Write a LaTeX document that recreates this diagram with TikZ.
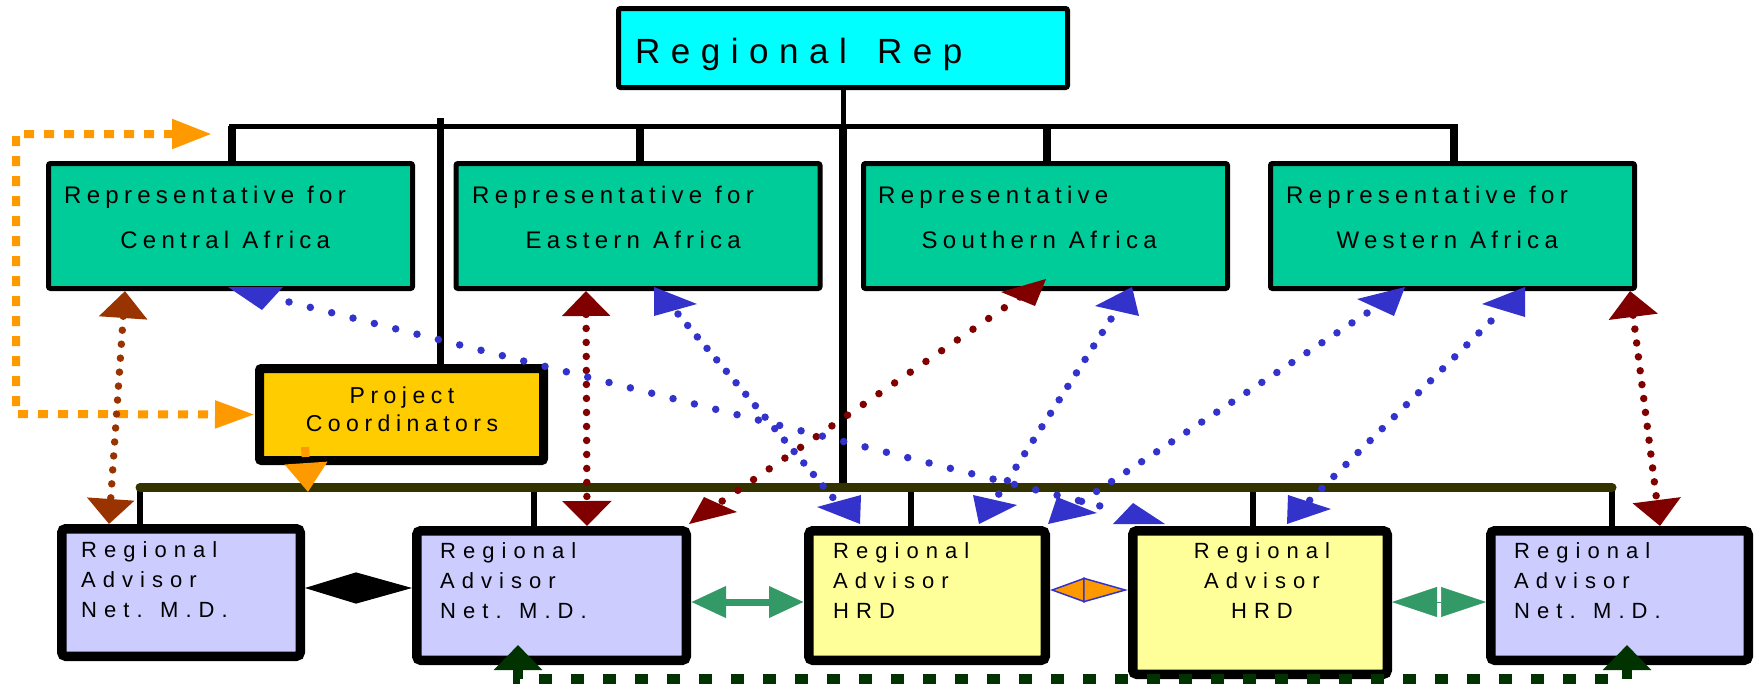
\documentclass[tikz,border=0pt]{standalone}
\usepackage{fontspec}
\setmainfont{Liberation Sans}
\newfontfamily\headfont[LetterSpace=30,WordSpace=1.5]{Liberation Sans}
\newfontfamily\repfont[LetterSpace=22]{Liberation Sans}
\newfontfamily\projfont[LetterSpace=24]{Liberation Sans}
\newfontfamily\advfont[LetterSpace=32]{Liberation Sans}
\usetikzlibrary{arrows.meta}
\definecolor{repcyan}{HTML}{00FFFF}
\definecolor{repgreen}{HTML}{00CC99}
\definecolor{projgold}{HTML}{FFCC00}
\definecolor{netlav}{HTML}{CCCCFF}
\definecolor{hrdyellow}{HTML}{FFFF99}
\definecolor{busolive}{HTML}{333300}
\definecolor{linkorange}{HTML}{FF9900}
\definecolor{linkblue}{HTML}{3333CC}
\definecolor{linkred}{HTML}{800000}
\definecolor{linkbrown}{HTML}{993300}
\definecolor{peergreen}{HTML}{339966}
\definecolor{loopgreen}{HTML}{003300}
\newcommand{\wsp}{\hspace{13pt}}
\tikzset{
  headbox/.style={draw, line width=5pt, fill=repcyan, rounded corners=2pt, minimum width=449pt, minimum height=79pt, inner sep=0pt},
  repbox/.style={draw, line width=5pt, fill=repgreen, rounded corners=2pt, minimum width=364pt, minimum height=125pt, inner sep=0pt},
  projbox/.style={draw, line width=9pt, fill=projgold, rounded corners=2pt, minimum width=284pt, minimum height=92pt, inner sep=0pt},
  advbox/.style={draw, line width=9.5pt, rounded corners=4pt, inner sep=0pt},
  netbox/.style={advbox, fill=netlav},
  hrdbox/.style={advbox, fill=hrdyellow},
  headtext/.style={anchor=base west, inner sep=0pt, font=\headfont\fontsize{35}{42}\selectfont},
  reptext/.style={anchor=north west, inner sep=0pt, text width=322pt, align=left, font=\repfont\fontsize{24}{45}\selectfont},
  projtext/.style={anchor=north, inner sep=0pt, align=center, font=\projfont\fontsize{23}{28}\selectfont},
  advtext/.style={anchor=north west, inner sep=0pt, align=left, font=\advfont\fontsize{22}{30}\selectfont},
  tree/.style={line width=5pt},
  drop/.style={line width=8pt},
  busline/.style={busolive, line width=9pt, line cap=round},
  bdots/.style={linkblue, line width=7.5pt, line cap=round, dash pattern=on 0pt off #1},
  bdots/.default=16pt,
  rdots/.style={linkred, line width=7.5pt, line cap=round, dash pattern=on 0pt off #1},
  rdots/.default=14pt,
  odash/.style={linkorange, line width=8pt, dash pattern=on 10pt off 10pt},
  gdash/.style={loopgreen, line width=10pt, dash pattern=on 13pt off 19pt},
}
\begin{document}
\begin{tikzpicture}[x=1pt, y=-1pt]
\useasboundingbox (0,0) rectangle (1757,686);
\node[headbox] (head) at (843,48) {};
\node[repbox] (central) at (230.5,226) {};
\node[repbox] (eastern) at (638,226) {};
\node[repbox] (southern) at (1045.5,226) {};
\node[repbox] (western) at (1452.5,226) {};
\node[projbox] (proj) at (401.5,414.5) {};
\node[netbox, minimum width=238.5pt, minimum height=127.5pt] (net1) at (181,592.5) {};
\node[netbox, minimum width=269.5pt, minimum height=129.5pt] (net2) at (551.5,595.5) {};
\node[hrdbox, minimum width=236.5pt, minimum height=129.5pt] (hrd1) at (927,595.5) {};
\node[hrdbox, minimum width=254.5pt, minimum height=143.5pt] (hrd2) at (1260,602.5) {};
\node[netbox, minimum width=257.5pt, minimum height=129.5pt] (net3) at (1619.5,595.5) {};

\node[headtext] (headlbl) at (635,63) {Regional Rep};
\node[reptext] (centrallbl) at (64,185.5) {Representative\wsp for\\\makebox[\hsize]{Central\wsp Africa}};
\node[reptext] (easternlbl) at (472,185.5) {Representative\wsp for\\\makebox[\hsize]{Eastern\wsp Africa}};
\node[reptext] (southernlbl) at (878,185.5) {Representative\\\makebox[\hsize]{Southern\wsp Africa}};
\node[reptext] (westernlbl) at (1286,185.5) {Representative\wsp for\\\makebox[\hsize]{Western\wsp Africa}};
\node[projtext] (projlbl) at (402,386.5) {Project\\Coordinators};
\node[advtext] (net1lbl) at (81,541.5) {Regional\\Advisor\\Net. M.D.};
\node[advtext] (net2lbl) at (440,542.5) {Regional\\Advisor\\Net. M.D.};
\node[advtext] (hrd1lbl) at (833,542.5) {Regional\\Advisor\\HRD};
\node[advtext, align=center, anchor=north] (hrd2lbl) at (1262,542.5) {Regional\\Advisor\\HRD};
\node[advtext] (net3lbl) at (1514,542.5) {Regional\\Advisor\\Net. M.D.};

\coordinate (busL) at (140,487.5);
\coordinate (busR) at (1612,487.5);
\draw[tree] (head.south) -- (843,126);
\draw[tree] (229,126) -- (1458,126);
\foreach \x/\r in {232/central,640/eastern,1047/southern,1454/western}
  \draw[drop] (\x,126) -- (\x,0 |- \r.north);
\draw[drop] (843,126) -- (843,0 |- busL);
\draw[line width=7pt] (440,118) -- (440,0 |- proj.north);
\foreach \x/\b in {140/net1,534/net2,911/hrd1,1253/hrd2,1612/net3}
  \draw[line width=6pt] (\x,490) -- (\x,0 |- \b.north);
\draw[busline] (busL) -- (busR);

\draw[odash, {Triangle[length=40pt,width=28pt]}-{Triangle[length=40pt,width=26pt]}] (212,134) -| (16,414) -- (proj.west);
\draw[odash, -{Triangle[length=29pt,width=41pt]}] (305,447) -- (308,492);

\draw[rdots=14pt, linkbrown, {Triangle[length=27pt,width=47pt]}-{Triangle[length=25pt,width=46pt]}] (125,0 |- central.south) -- (109,0 |- net1.north);
\draw[rdots=14pt, {Triangle[length=25pt,width=47pt]}-{Triangle[length=25pt,width=48pt]}] (586,0 |- eastern.south) -- (587,0 |- net2.north);
\draw[rdots=14pt, {Triangle[length=26pt,width=48pt]}-{Triangle[length=26pt,width=47pt]}] (1630,0 |- western.south) -- (1660,0 |- net3.north);

\coordinate (sr1) at (1020,297);
\coordinate (sr2) at (715,506);
\draw[rdots=19pt] (sr1) -- (sr2);
\fill[linkred] (1001,292) -- (1046,279) -- (1035,306) -- cycle;
\fill[linkred] (689,524) -- (704,497) -- (737,512) -- cycle;

\coordinate (ca1) at (289,302);
\coordinate (ca2) at (1120,511);
\coordinate (ea1) at (678,314);
\coordinate (ea2) at (835,500);
\coordinate (sa1) at (1111,319);
\coordinate (sa2) at (995,500);
\coordinate (wa1) at (1367,313);
\coordinate (wa2) at (1073,507);
\coordinate (wb1) at (1491,321);
\coordinate (wb2) at (1305,505);
\draw[bdots=22pt] (ca1) -- (ca2);
\draw[bdots=15pt] (ea1) -- (ea2);
\draw[bdots=16pt] (sa1) -- (sa2);
\draw[bdots=18pt] (wa1) -- (wa2);
\draw[bdots=17pt] (wb1) -- (wb2);
\fill[linkblue] (228,287) -- (283,287) -- (262,310) -- cycle;
\fill[linkblue] (654,287) -- (654,316) -- (697,304) -- cycle;
\fill[linkblue] (1132,287) -- (1095,306) -- (1139,316) -- cycle;
\fill[linkblue] (1405,287) -- (1357,299) -- (1394,316) -- cycle;
\fill[linkblue] (1525,287) -- (1482,304) -- (1525,317) -- cycle;
\fill[linkblue] (817,507) -- (861,495) -- (860,524) -- cycle;
\fill[linkblue] (973,495) -- (1017,505) -- (979,524) -- cycle;
\fill[linkblue] (1057,497) -- (1097,513) -- (1048,524) -- cycle;
\fill[linkblue] (1133,503) -- (1165,524) -- (1113,524) -- cycle;
\fill[linkblue] (1288,495) -- (1331,509) -- (1287,524) -- cycle;

\draw[line width=1pt, {Triangle[length=51pt,width=31pt]}-{Triangle[length=56pt,width=31pt]}] (net1.east |- 0,588) -- (net2.west |- 0,588);
\draw[peergreen, line width=7pt, {Triangle[length=35pt,width=30pt]}-{Triangle[length=35pt,width=30pt]}] (net2.east |- 0,602) -- (hrd1.west |- 0,602);
\draw[linkblue, line width=1.5pt, {Triangle[length=35pt,width=25pt,fill=linkorange]}-{Triangle[length=45pt,width=25pt,fill=linkorange]}] (hrd1.east |- 0,590) -- (hrd2.west |- 0,590);
\draw[peergreen, line width=0.5pt, {Triangle[length=45pt,width=30pt]}-{Triangle[length=45pt,width=30pt]}] (hrd2.east |- 0,602) -- (net3.west |- 0,602);

\coordinate (lp1) at (518,645);
\coordinate (lp2) at (1627,645);
\draw[gdash, {Triangle[length=25pt,width=47pt]}-{Triangle[length=25pt,width=47pt]}] (lp1) -- (518,679) -| (lp2);
\end{tikzpicture}
\end{document}
